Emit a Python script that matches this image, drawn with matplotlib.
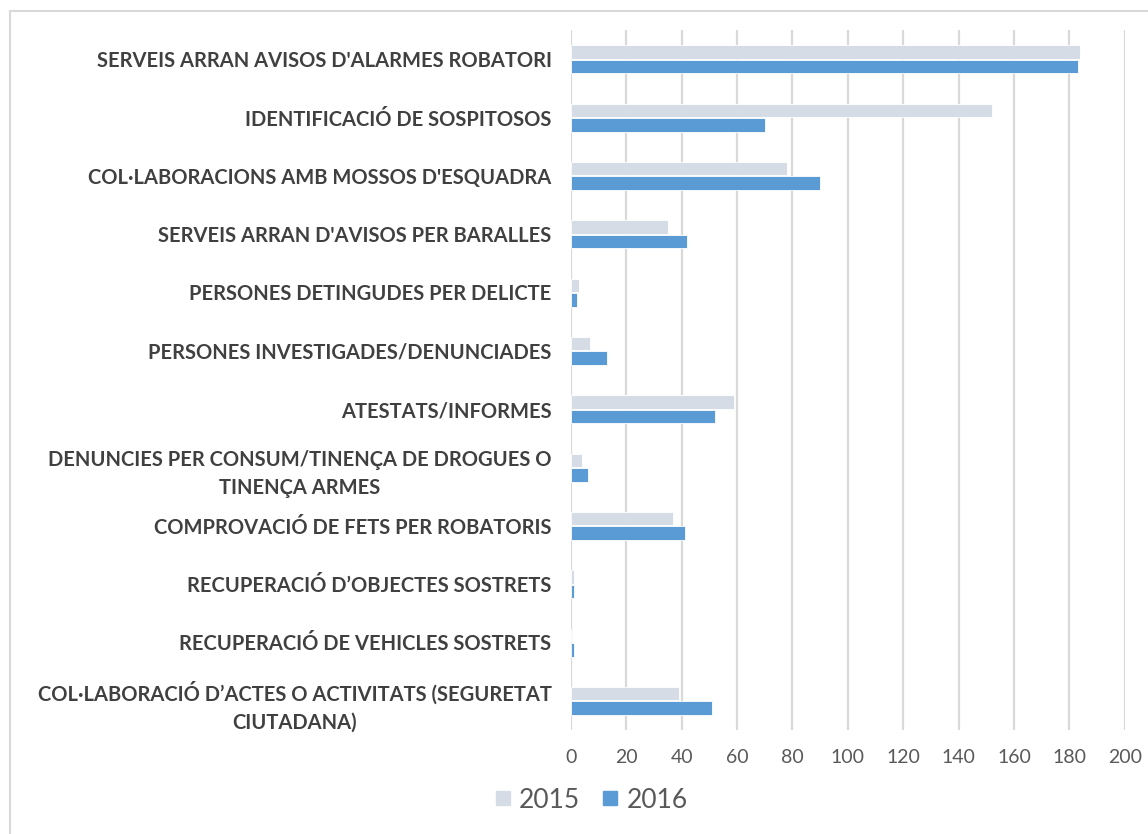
import matplotlib.pyplot as plt
from matplotlib.lines import Line2D
import numpy as np

categories = [
    "SERVEIS ARRAN AVISOS D'ALARMES ROBATORI",
    "IDENTIFICACIÓ DE SOSPITOSOS",
    "COL·LABORACIONS AMB MOSSOS D'ESQUADRA",
    "SERVEIS ARRAN D'AVISOS PER BARALLES",
    "PERSONES DETINGUDES PER DELICTE",
    "PERSONES INVESTIGADES/DENUNCIADES",
    "ATESTATS/INFORMES",
    "DENUNCIES PER CONSUM/TINENÇA DE DROGUES O\nTINENÇA ARMES",
    "COMPROVACIÓ DE FETS PER ROBATORIS",
    "RECUPERACIÓ D\u2019OBJECTES SOSTRETS",
    "RECUPERACIÓ DE VEHICLES SOSTRETS",
    "COL·LABORACIÓ D\u2019ACTES O ACTIVITATS (SEGURETAT\nCIUTADANA)",
]
vals_2015 = [184, 152, 78, 35, 3, 7, 59, 4, 37, 1, 0, 39]
vals_2016 = [183, 70, 90, 42, 2, 13, 52, 6, 41, 1, 1, 51]
years = ["2015", "2016"]
xticks = list(range(0, 201, 20))

c2015 = '#D6DCE5'
c2016 = '#5B9BD5'
grid_c = '#D9D9D9'

plt.rcParams['font.family'] = ['Lato', 'DejaVu Sans']

fig = plt.figure(figsize=(11.48, 8.34), dpi=100)
ax = fig.add_axes([571/1148, 1-730/834, 553.7/1148, 700/834])

y = np.arange(len(categories))
h = 0.23
ax.barh(y - 0.125, vals_2015, height=h, color=c2015, edgecolor='white', linewidth=0.6, label=years[0])
ax.barh(y + 0.125, vals_2016, height=h, color=c2016, edgecolor='white', linewidth=0.6, label=years[1])

ax.set_xlim(0, 200)
ax.set_ylim(len(categories) - 0.5, -0.5)
ax.set_xticks(xticks)
ax.set_yticks(y)
ax.set_yticklabels(categories, fontsize=14.5, fontweight='bold', color='#404040',
                   multialignment='center', linespacing=1.5)
ax.tick_params(axis='x', length=0, pad=14, labelsize=14, labelcolor='#595959')
ax.tick_params(axis='y', length=0, pad=14)
for s in ax.spines.values():
    s.set_visible(False)
ax.grid(axis='x', color=grid_c, linewidth=1.6)
ax.set_axisbelow(True)

# legend at the bottom
handles = [Line2D([0], [0], marker='s', linestyle='none', markersize=10,
                  markerfacecolor=c, markeredgecolor=c) for c in (c2015, c2016)]
fig.legend(handles, years, loc='center', bbox_to_anchor=(590/1148, 1-800/834),
           ncol=2, frameon=False, fontsize=19, labelcolor='#595959',
           handletextpad=0.2, columnspacing=0.75, handlelength=0.8)

# outer chart frame (top and left edges visible)
fig.add_artist(Line2D([10/1148, 1], [1-11/834, 1-11/834], color=grid_c, linewidth=1.5))
fig.add_artist(Line2D([10/1148, 10/1148], [0, 1-11/834], color=grid_c, linewidth=1.5))

fig.savefig('out.png', dpi=100)
